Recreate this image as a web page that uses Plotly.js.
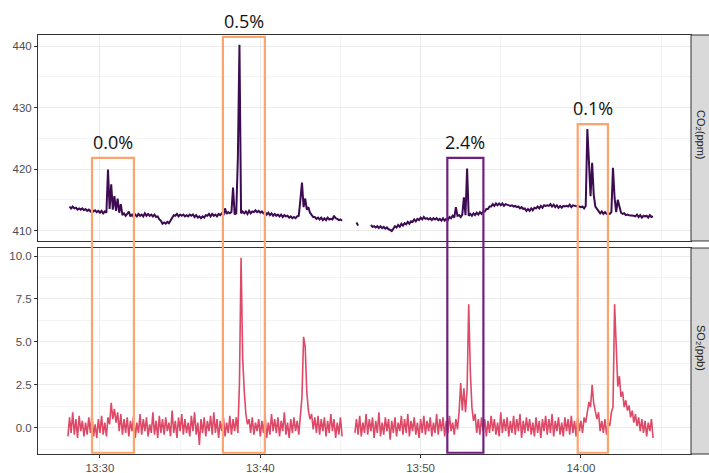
<!DOCTYPE html>
<html>
<head>
<meta charset="utf-8">
<script src="https://cdn.plot.ly/plotly-3.0.1.min.js"></script>
<style>html,body{margin:0;padding:0;background:#fff;}#chart{width:709px;height:473px;}</style>
</head>
<body>
<div id="chart"></div>
<script>
// Sampling grid: first sample at 13:28:00, one sample every 6 seconds
const startTime = '2021-01-01 13:28:00';
const stepSeconds = 6;

// CO2 (ppm) readings
const co2 = [
 null,413.9,413.6,413.9,413.6,413.7,413.4,413.6,413.4,413.6,
 413.3,413.5,413.2,413.4,413.1,413.4,413.1,413.3,413.0,413.2,
 412.9,413.2,412.8,413.1,412.9,419.9,413.5,417.5,413.4,415.6,
 413.2,415.2,412.9,414.3,412.5,412.8,412.4,412.7,413.1,412.3,
 412.6,412.2,412.6,412.3,412.7,412.4,412.6,412.3,412.8,412.4,
 412.7,412.4,412.6,412.3,412.6,412.2,412.3,411.8,411.6,411.1,
 411.3,411.1,411.4,411.2,411.6,412.0,412.5,412.4,412.7,412.3,
 412.6,412.4,412.6,412.3,412.5,412.3,412.6,412.4,412.6,412.2,
 412.5,412.1,412.3,412.0,412.3,412.1,412.5,412.4,412.7,412.3,
 412.7,412.4,412.6,412.3,412.7,412.5,412.8,412.5,413.6,412.7,
 413.0,412.8,413.0,417.0,412.6,412.8,421.7,440.2,412.8,413.1,
 412.8,413.1,412.7,413.2,412.8,413.1,413.0,413.3,413.0,413.2,
 412.9,413.1,412.8,413.0,412.6,412.9,412.5,412.8,412.4,412.7,
 412.4,412.6,412.3,412.6,412.2,412.5,412.3,412.4,412.1,412.3,
 412.0,412.2,412.0,412.3,412.4,415.0,417.8,413.8,415.2,413.4,
 413.8,412.9,412.6,412.2,412.2,411.9,412.1,411.8,412.1,411.7,
 412.0,411.7,412.1,411.8,411.9,411.8,412.4,412.0,411.9,411.7,
 411.8,411.6,null,null,null,null,null,null,null,null,
 411.3,410.8,null,null,null,null,null,null,null,410.9,
 410.6,410.7,410.5,410.7,410.4,410.7,410.4,410.6,410.3,410.5,
 410.2,410.1,409.9,410.3,410.7,410.5,410.9,410.6,411.1,410.8,
 411.2,411.0,411.4,411.1,411.5,411.4,411.8,411.5,411.9,411.7,
 412.1,411.8,412.2,411.9,412.0,411.8,412.0,411.7,412.0,411.8,
 412.0,411.7,411.9,411.6,412.0,411.6,411.9,411.7,412.2,412.0,
 412.4,412.1,413.8,412.4,412.5,412.2,412.6,415.4,412.5,420.1,
 412.4,412.7,412.4,412.8,412.5,412.9,412.6,413.0,412.7,413.1,
 413.1,413.5,413.5,413.9,413.9,414.3,414.0,414.4,414.1,414.4,
 414.1,414.4,414.0,414.3,414.2,414.2,414.0,414.1,413.9,414.0,
 413.8,413.9,413.6,413.8,413.5,413.6,413.2,413.5,413.2,413.6,
 413.3,413.7,413.6,413.9,413.6,414.0,413.7,414.1,414.0,414.1,
 414.0,414.3,413.9,414.2,413.8,414.1,413.7,414.0,413.7,414.0,
 413.9,414.0,413.9,414.2,413.8,414.1,414.0,414.0,413.9,413.9,
 413.8,413.9,413.6,414.0,426.5,421.2,415.6,421.0,415.8,413.9,
 413.5,413.2,412.8,413.1,412.7,413.0,412.7,412.8,412.7,413.0,
 420.2,415.3,413.0,415.0,414.0,412.9,412.7,412.8,412.5,412.6,
 412.5,412.5,412.4,412.4,412.3,412.6,412.2,412.5,412.1,412.4,
 412.3,412.4,412.1,412.5,412.2,412.3
];

// SO2 (ppb) readings
const so2 = [
 -0.5,0.6,-0.3,0.9,-0.4,0.5,-0.6,0.7,-0.2,0.4,
 -0.5,0.3,-0.4,0.6,-0.3,0.8,-0.5,0.2,-0.6,0.5,
 -0.3,0.7,-0.4,0.3,-0.5,0.6,0.2,1.45,0.5,1.1,
 0.3,0.9,-0.2,0.8,-0.4,0.5,-0.3,0.6,-0.5,0.4,
 -0.2,0.7,-0.6,0.3,-0.3,0.8,-0.4,0.5,-0.2,0.6,
 -0.5,0.2,-0.3,0.9,-0.4,0.4,-0.6,0.7,-0.3,0.5,
 -0.4,0.6,-0.2,0.3,-0.5,1.0,-0.3,0.4,-0.6,0.6,
 -0.2,0.8,-0.4,0.5,-0.3,0.3,-0.5,0.7,-0.2,0.9,
 -0.4,0.3,-1.0,0.5,-0.3,0.6,-0.5,0.4,-0.2,0.7,
 -0.4,0.9,-0.3,0.5,-0.6,0.4,-0.2,0.6,-0.5,0.3,
 -0.3,0.7,-0.4,0.5,-0.2,0.6,-0.3,2.6,9.9,4.1,
 2.1,0.8,0.2,0.5,-0.3,0.6,-0.4,0.3,-0.2,0.5,
 -0.5,0.4,-0.3,0.7,-0.6,0.3,-0.4,0.8,-0.2,0.5,
 -0.3,0.6,-0.5,0.4,-0.2,0.9,-0.4,0.3,-0.6,0.5,
 -0.3,0.6,-0.2,0.4,-0.4,0.5,1.8,5.3,4.7,2.1,
 1.0,0.5,0.8,-0.1,0.6,-0.3,0.7,-0.4,0.5,-0.2,
 0.6,-0.5,0.4,-0.3,0.8,-0.2,0.5,-0.6,0.3,-0.4,
 0.6,-0.5,null,null,null,null,null,null,null,-0.3,
 0.5,-0.4,0.7,-0.5,0.3,-0.3,0.8,-0.4,0.5,-0.2,
 0.6,-0.6,0.4,-0.3,0.9,-0.5,0.3,-0.4,0.6,-0.2,
 0.5,-0.7,0.4,-0.3,0.6,-0.5,0.3,-0.2,0.7,-0.4,
 0.5,-0.3,0.8,-0.5,0.4,-0.2,0.6,-0.4,0.3,-0.6,
 0.5,-0.3,0.7,-0.4,0.4,-0.2,0.6,-0.5,0.3,-0.3,
 0.8,-0.4,0.5,-0.2,0.6,-0.5,0.4,-0.3,0.7,-0.2,
 0.3,-0.4,0.5,-0.1,0.9,2.6,1.0,2.3,0.9,2.2,
 7.2,3.3,1.2,0.4,0.8,-0.3,0.5,-0.4,0.6,-0.2,
 0.5,-0.5,0.4,-0.3,0.7,-0.2,0.5,-0.4,0.3,-0.5,
 0.9,-0.3,0.5,-0.2,0.6,-0.5,0.4,-0.3,0.7,-0.4,
 0.5,-0.2,0.8,-0.6,0.4,-0.3,0.6,-0.2,0.5,-0.4,
 0.3,-0.5,0.6,-0.3,0.4,-0.6,0.5,-0.2,0.7,-0.4,
 0.5,-0.3,0.8,-0.5,0.4,-0.2,0.6,-0.4,0.3,-0.5,
 0.6,-0.2,0.5,-0.4,0.7,-0.3,0.4,-0.5,0.6,-0.2,
 0.4,-0.3,0.6,0.3,1.0,1.5,1.2,2.5,1.4,0.9,
 0.5,0.9,-0.2,0.4,-0.3,0.5,-0.4,0.3,0.1,0.9,
 1.2,7.2,5.1,2.4,3.0,1.8,2.1,1.2,1.6,1.0,
 1.3,0.6,1.0,0.3,0.8,0.1,0.6,-0.2,0.5,-0.3,
 0.4,-0.5,0.3,-0.2,0.5,-0.6
];

// Highlighted plume windows
const boxStart = ['2021-01-01 13:29:30','2021-01-01 13:37:40','2021-01-01 13:51:40','2021-01-01 13:59:48'];
const boxEnd   = ['2021-01-01 13:32:07','2021-01-01 13:40:17','2021-01-01 13:53:55','2021-01-01 14:01:41'];
const boxTopCO2 = [421.8, 441.5, 421.8, 427.3];
const boxLabels = ['0.0%','0.5%','2.4%','0.1%'];
const boxKind   = ['low','low','high','low'];

// Tick labels
const xTickVals = ['2021-01-01 13:30','2021-01-01 13:40','2021-01-01 13:50','2021-01-01 14:00'];
const xTickText = ['13:30','13:40','13:50','14:00'];
const co2TickVals = [410,420,430,440];
const so2TickVals = [0,2.5,5,7.5,10];
const so2TickText = ['0.0','2.5','5.0','7.5','10.0'];
const stripLabels = ['CO\u2082(ppm)','SO\u2082(ppb)'];

function pad(n){return (n<10?'0':'')+n;}
function fmt(ms){const d=new Date(ms);return '2021-01-01 '+pad(d.getUTCHours())+':'+pad(d.getUTCMinutes())+':'+pad(d.getUTCSeconds());}
function parse(s){return new Date(s.replace(' ','T')+'Z').getTime();}
const t0 = parse(startTime);
const times = co2.map((_,i)=>fmt(t0 + i*stepSeconds*1000));

const topDomain = [0.5084, 1];
const botDomain = [0, 0.4916];
const co2Range = [408.3, 441.8];
const so2Range = [-1.53, 10.47];
const xRange = ['2021-01-01 13:26:08','2021-01-01 14:06:52'];

const gridCol = '#EBEBEB';
const minorCol = '#F4F4F4';
const frameCol = '#333333';
const tickFont = {family:'Liberation Sans, Arial, sans-serif', size:11.5, color:'#4D4D4D'};

const traces = [
  {x: times, y: co2, type:'scatter', mode:'lines', xaxis:'x', yaxis:'y',
   line:{color:'#3D0B52', width:2}, connectgaps:false, hoverinfo:'skip'},
  {x: times, y: so2, type:'scatter', mode:'lines', xaxis:'x2', yaxis:'y2',
   line:{color:'#DE4968', width:1.6}, connectgaps:false, hoverinfo:'skip'}
];

function co2ToPaper(v){
  return topDomain[0] + (v-co2Range[0])/(co2Range[1]-co2Range[0])*(topDomain[1]-topDomain[0]);
}

const shapes = [];
const annotations = [];
// facet strips
[topDomain, botDomain].forEach((dom, k)=>{
  shapes.push({type:'rect', xref:'paper', yref:'paper', x0:1, x1:1.06, y0:dom[0], y1:dom[1],
    fillcolor:'#D9D9D9', line:{color:frameCol, width:1}, layer:'above'});
  annotations.push({xref:'paper', yref:'paper', x:1+9.5/653, y:(dom[0]+dom[1])/2 + 0.006,
    xanchor:'center', yanchor:'middle',
    text:stripLabels[k], showarrow:false, textangle:90,
    font:{family:'Liberation Sans, DejaVu Sans, sans-serif', size:11, color:'#1A1A1A'}});
});
// highlight boxes
boxStart.forEach((s,i)=>{
  const col = boxKind[i]==='high' ? '#721F81' : '#FCA46E';
  const top = co2ToPaper(boxTopCO2[i]);
  shapes.push({type:'rect', xref:'x', yref:'paper', x0:s, x1:boxEnd[i], y0:0.003, y1:top,
    line:{color:col, width:2.2}, fillcolor:'rgba(0,0,0,0)', layer:'above'});
  annotations.push({xref:'x', yref:'paper', x: fmt((parse(s)+parse(boxEnd[i]))/2), y: top,
    xanchor:'center', yanchor:'bottom', text: boxLabels[i], showarrow:false, yshift:2,
    font:{family:'Open Sans, sans-serif', size:18, color:'#111111'}});
});

const xCommon = {type:'date', range:xRange, showgrid:true, gridcolor:gridCol, gridwidth:1,
  tickvals:xTickVals, ticktext:xTickText, zeroline:false,
  showline:true, linecolor:frameCol, linewidth:1, mirror:true,
  minor:{dtick:300000, tick0:'2021-01-01 13:25', showgrid:true, gridcolor:minorCol, gridwidth:1, ticks:''},
  tickfont:tickFont, fixedrange:true};

const layout = {
  width:709, height:473,
  margin:{l:38, r:18, t:35, b:19},
  paper_bgcolor:'#ffffff', plot_bgcolor:'#ffffff',
  showlegend:false,
  xaxis: Object.assign({}, xCommon, {anchor:'y', showticklabels:false, ticks:''}),
  xaxis2: Object.assign({}, xCommon, {anchor:'y2', matches:'x', ticks:'outside', ticklen:3, tickcolor:frameCol, tickwidth:1}),
  yaxis: {domain:topDomain, range:co2Range, anchor:'x', tickvals:co2TickVals, showgrid:true, gridcolor:gridCol,
    zeroline:false, showline:true, linecolor:frameCol, linewidth:1, mirror:true,
    ticks:'outside', ticklen:3, tickcolor:frameCol, tickwidth:1, tickfont:tickFont,
    minor:{tickvals:[415,425,435], showgrid:true, gridcolor:minorCol, gridwidth:1, ticks:''}},
  yaxis2: {domain:botDomain, range:so2Range, anchor:'x2', tickvals:so2TickVals, ticktext:so2TickText,
    showgrid:true, gridcolor:gridCol, zeroline:false, showline:true, linecolor:frameCol, linewidth:1, mirror:true,
    ticks:'outside', ticklen:3, tickcolor:frameCol, tickwidth:1, tickfont:tickFont,
    minor:{tickvals:[-1.25,1.25,3.75,6.25,8.75], showgrid:true, gridcolor:minorCol, gridwidth:1, ticks:''}},
  shapes: shapes,
  annotations: annotations
};

Plotly.newPlot('chart', traces, layout, {staticPlot:true, displayModeBar:false});
</script>
</body>
</html>
